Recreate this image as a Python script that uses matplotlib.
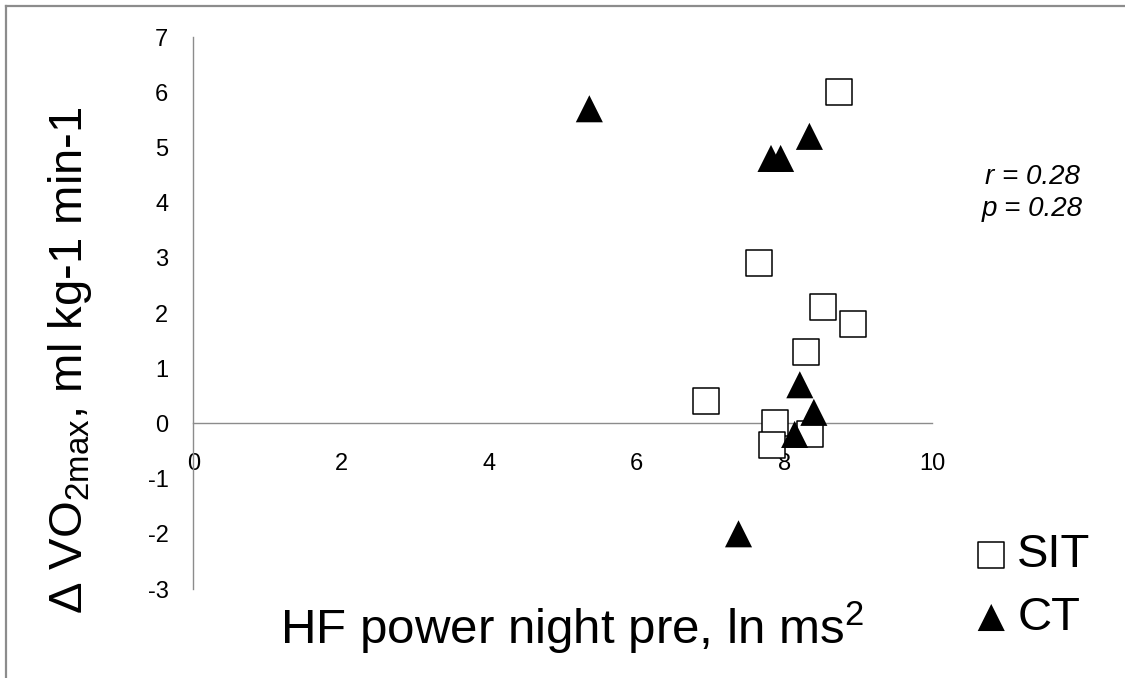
import matplotlib
matplotlib.use("Agg")
import matplotlib.pyplot as plt
from matplotlib.lines import Line2D

plt.rcParams['font.family'] = ['Liberation Sans', 'DejaVu Sans']
plt.rcParams['mathtext.fontset'] = 'custom'
plt.rcParams['mathtext.rm'] = 'Liberation Sans'
plt.rcParams['mathtext.it'] = 'Liberation Sans:italic'
plt.rcParams['axes.unicode_minus'] = False

# Data
sit_x = [8.74, 7.66, 8.53, 8.93, 8.29, 6.94, 7.88, 7.83, 8.35]
sit_y = [6.0, 2.9, 2.1, 1.8, 1.3, 0.4, 0.0, -0.4, -0.2]
ct_x = [5.36, 8.34, 7.82, 7.95, 8.21, 8.40, 8.14, 7.38]
ct_y = [5.7, 5.2, 4.8, 4.8, 0.7, 0.2, -0.2, -2.0]
x_ticks = [0, 2, 4, 6, 8, 10]
y_ticks = [-3, -2, -1, 0, 1, 2, 3, 4, 5, 6, 7]
stats_text = "r = 0.28\np = 0.28"

fig = plt.figure(figsize=(11.25, 6.78), dpi=100)
ax = fig.add_axes([193.5 / 1125, 1 - 589 / 678, 738.5 / 1125, 552 / 678])

ax.scatter(sit_x, sit_y, marker='s', s=18.8 ** 2, facecolor='white',
           edgecolor='black', linewidth=1.1, label='SIT', zorder=3)
ax.scatter(ct_x, ct_y, marker='^', s=19.5 ** 2, facecolor='black',
           edgecolor='none', label='CT', zorder=3)

ax.set_xlim(0, 10)
ax.set_ylim(-3, 7)
ax.set_xticks(x_ticks)
ax.set_yticks(y_ticks)
ax.spines['top'].set_visible(False)
ax.spines['right'].set_visible(False)
ax.spines['left'].set_position(('data', 0))
ax.spines['bottom'].set_position(('data', 0))
for sp in ('left', 'bottom'):
    ax.spines[sp].set_color('#8c8c8c')
    ax.spines[sp].set_linewidth(1.0)
ax.tick_params(axis='both', length=0, labelsize=17)
ax.tick_params(axis='y', pad=18)
ax.tick_params(axis='x', pad=21)

fig.text(70 / 1125, 1 - 360 / 678, r"Δ VO$_{\mathrm{2max}}$, ml kg-1 min-1",
         rotation=90, ha='center', va='center', fontsize=34)
fig.text(572 / 1125, 1 - 628 / 678, r"HF power night pre, ln ms$^{\mathrm{2}}$",
         ha='center', va='center', fontsize=35.5)

fig.text(1032 / 1125, 1 - 193 / 678, stats_text, ha='center', va='center',
         fontsize=20, style='italic', linespacing=1.35)

leg = fig.legend(loc='upper left', bbox_to_anchor=(970 / 1125, 1 - 533 / 678),
                 frameon=False, fontsize=34, handletextpad=0.1,
                 handlelength=0.9, labelspacing=0.4, borderpad=0,
                 borderaxespad=0)

fig.add_artist(Line2D([6 / 1125, 1.0], [1 - 6 / 678, 1 - 6 / 678],
                      transform=fig.transFigure, color='#8c8c8c', linewidth=1.6))
fig.add_artist(Line2D([6 / 1125, 6 / 1125], [0.0, 1 - 6 / 678],
                      transform=fig.transFigure, color='#8c8c8c', linewidth=1.6))

fig.savefig('out.png', dpi=100)
